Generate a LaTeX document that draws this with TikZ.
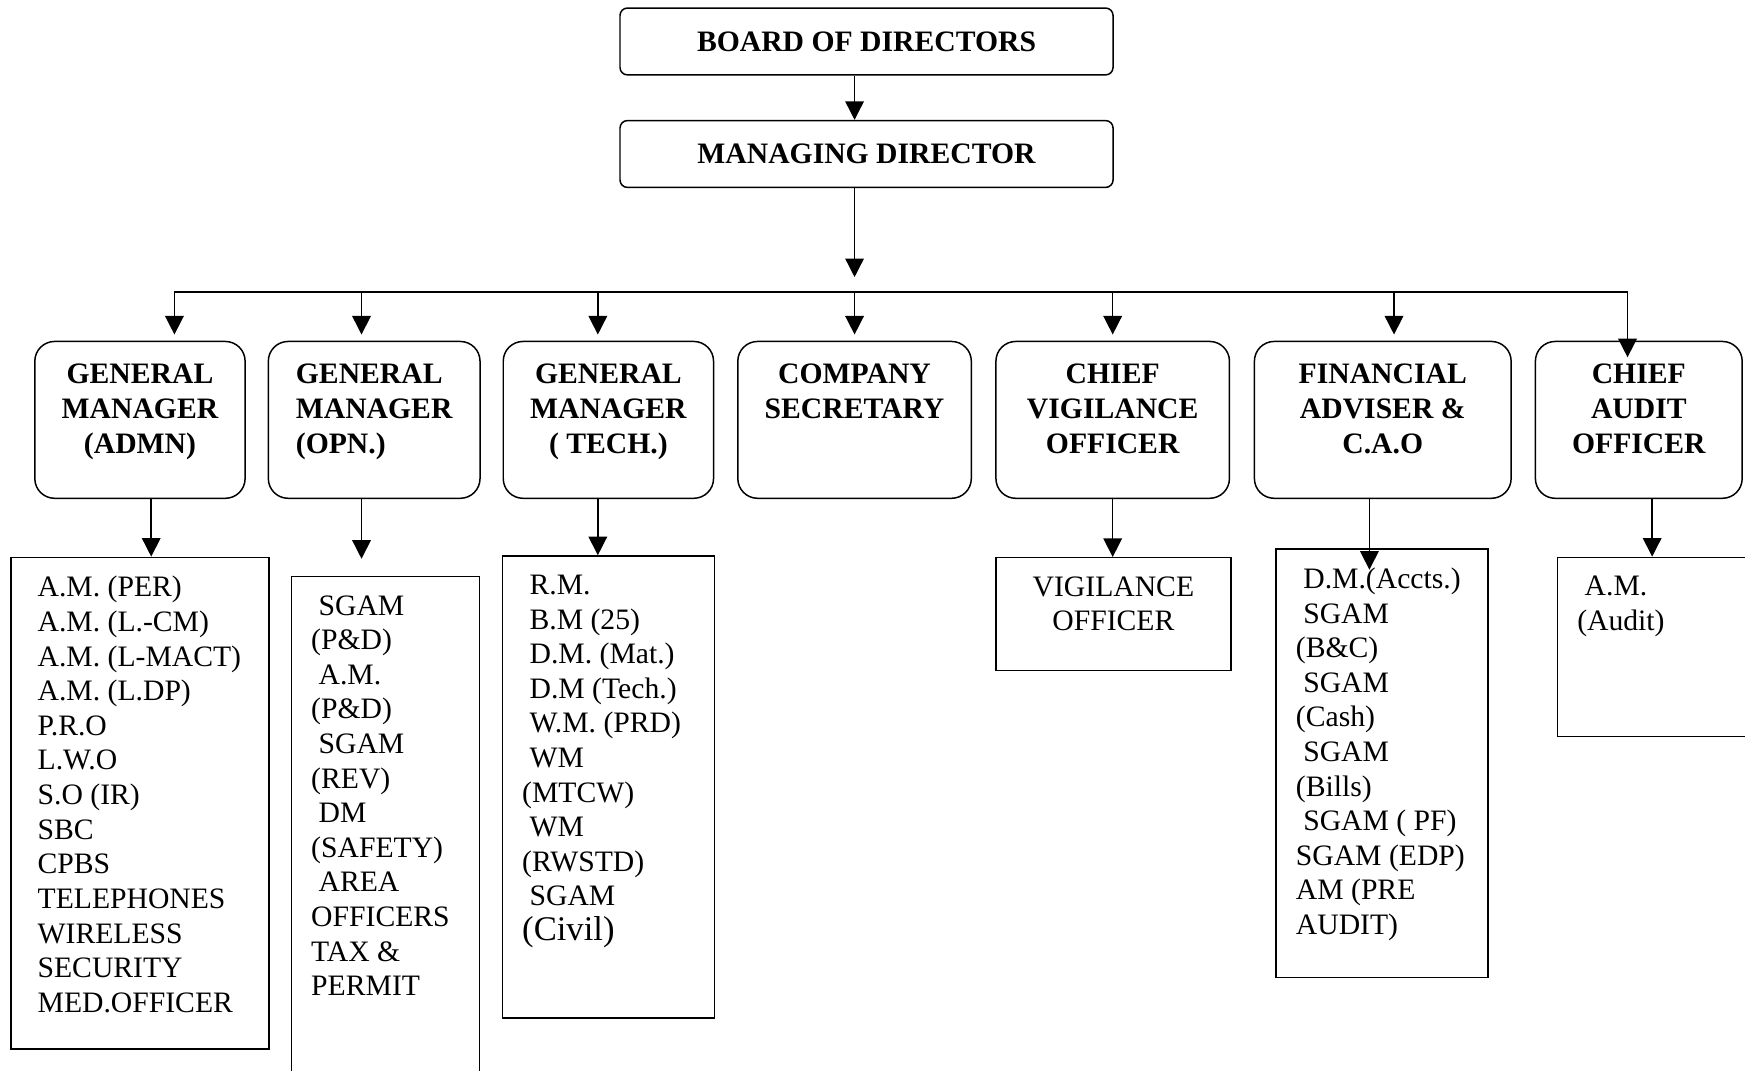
\documentclass[tikz,border=0pt]{standalone}
\usepackage{fontspec}
\setmainfont{Liberation Serif}
\usetikzlibrary{arrows.meta}
\newcommand{\indsp}{\hspace*{3pt}}

\begin{document}
\begin{tikzpicture}[
		line width=0.6pt,
		arr/.style={-{Triangle[length=7.5pt,width=7.5pt]}},
		topbox/.style={draw, rounded corners=3pt, minimum width=7.01cm, minimum height=0.95cm, font=\bfseries\fontsize{12}{14}\selectfont},
		headbox/.style={draw, rounded corners=8pt, minimum height=2.23cm},
		headtext/.style={anchor=north, inner sep=0pt, align=center, font=\bfseries\fontsize{12}{14.2}\selectfont},
		listbox/.style={draw},
		listtext/.style={anchor=north west, inner sep=0pt, align=left, font=\fontsize{12}{14}\selectfont}
	]
		\useasboundingbox (0,0) rectangle (24.81,15.22);
		
		%Board and MD
		\node[topbox] (board) at (12.32,14.63) {BOARD OF DIRECTORS};
		\node[topbox] (md) at (12.32,13.03) {MANAGING DIRECTOR};
		\coordinate (mdtip) at (12.15,11.28);
		\draw[arr] (board.south -| mdtip) -- (md.north -| mdtip);
		\draw[arr] (md.south -| mdtip) -- (mdtip);
		
		%Heads
		\node[headbox, minimum width=2.99cm] (gmadmn) at (1.99,9.25) {};
		\node[headtext] (gmadmntxt) at ([yshift=-0.32cm]gmadmn.north) {GENERAL\\MANAGER\\(ADMN)};
		
		\node[headbox, minimum width=3.01cm] (gmopn) at (5.32,9.25) {};
		\node[headtext, align=left] (gmopntxt) at ([yshift=-0.32cm]gmopn.north) {GENERAL\\MANAGER\\(OPN.)};
		
		\node[headbox, minimum width=2.99cm] (gmtech) at (8.65,9.25) {};
		\node[headtext] (gmtechtxt) at ([yshift=-0.32cm]gmtech.north) {GENERAL\\MANAGER\\( TECH.)};
		
		\node[headbox, minimum width=3.32cm] (csec) at (12.15,9.25) {};
		\node[headtext] (csectxt) at ([yshift=-0.32cm]csec.north) {COMPANY\\SECRETARY};
		
		\node[headbox, minimum width=3.32cm] (cvo) at (15.82,9.25) {};
		\node[headtext] (cvotxt) at ([yshift=-0.32cm]cvo.north) {CHIEF\\VIGILANCE\\OFFICER};
		
		\node[headbox, minimum width=3.65cm] (facao) at (19.66,9.25) {};
		\node[headtext] (facaotxt) at ([yshift=-0.32cm]facao.north) {FINANCIAL\\ADVISER \&\\C.A.O};
		
		\node[headbox, minimum width=2.94cm] (caudit) at (23.30,9.25) {};
		\node[headtext] (caudittxt) at ([yshift=-0.32cm]caudit.north) {CHIEF\\AUDIT\\OFFICER};
		
		%Bus from MD
		\coordinate (b1) at (2.48,11.07);
		\coordinate (b2) at (5.14,11.07);
		\coordinate (b3) at (8.50,11.07);
		\coordinate (b4) at (12.15,11.07);
		\coordinate (b5) at (15.82,11.07);
		\coordinate (b6) at (19.82,11.07);
		\coordinate (b7) at (23.14,11.07);
		\coordinate (t7) at (23.14,10.14);
		\draw (b1) -- (b7);
		\foreach \b/\n in {b1/gmadmn, b2/gmopn, b3/gmtech, b4/csec, b5/cvo, b6/facao}
			\draw[arr, shorten >=2.5pt] (\b) -- (\b |- \n.north);
		\draw[arr] (b7) -- (t7);
		
		%Lists
		\node[listbox, minimum width=3.67cm, minimum height=6.99cm] (admnlist) at (1.99,3.80) {};
		\node[listtext] (admntxt) at ([xshift=0.38cm,yshift=-0.27cm]admnlist.north west) {A.M. (PER)\\A.M. (L.-CM)\\A.M. (L-MACT)\\A.M. (L.DP)\\P.R.O\\L.W.O\\S.O (IR)\\SBC\\CPBS\\TELEPHONES\\WIRELESS\\SECURITY\\MED.OFFICER};
		
		\node[listbox, minimum width=2.67cm, minimum height=7.23cm] (opnlist) at (5.48,3.41) {};
		\node[listtext] (opntxt) at ([xshift=0.28cm,yshift=-0.27cm]opnlist.north west) {\indsp SGAM\\(P\&D)\\\indsp A.M.\\(P\&D)\\\indsp SGAM\\(REV)\\\indsp DM\\(SAFETY)\\\indsp AREA\\OFFICERS\\TAX \&\\PERMIT};
		
		\node[listbox, minimum width=3.01cm, minimum height=6.57cm] (techlist) at (8.65,4.03) {};
		\node[listtext] (techtxt) at ([xshift=0.28cm,yshift=-0.27cm]techlist.north west) {\indsp R.M.\\\indsp B.M (25)\\\indsp D.M. (Mat.)\\\indsp D.M (Tech.)\\\indsp W.M. (PRD)\\\indsp WM\\(MTCW)\\\indsp WM\\(RWSTD)\\\indsp SGAM\\{\fontsize{14}{14}\selectfont (Civil)}};
		
		\node[listbox, minimum width=3.34cm, minimum height=1.60cm] (vigoff) at (15.83,6.49) {};
		\node[listtext, anchor=north, align=center] (vigtxt) at ([yshift=-0.27cm]vigoff.north) {VIGILANCE\\OFFICER};
		
		\node[listbox, minimum width=3.01cm, minimum height=6.09cm] (falist) at (19.65,4.37) {};
		\node[listtext] (fatxt) at ([xshift=0.28cm,yshift=-0.27cm]falist.north west) {\indsp D.M.(Accts.)\\\indsp SGAM\\(B\&C)\\\indsp SGAM\\(Cash)\\\indsp SGAM\\(Bills)\\\indsp SGAM ( PF)\\SGAM (EDP)\\AM (PRE\\AUDIT)};
		
		\node[listbox, minimum width=2.77cm, minimum height=2.55cm] (auditlist) at (23.53,6.02) {};
		\node[listtext] (audittxt) at ([xshift=0.28cm,yshift=-0.27cm]auditlist.north west) {\indsp A.M.\\(Audit)};
		
		%Heads to lists
		\coordinate (c1) at (2.15,8.14);
		\coordinate (c2) at (5.14,8.14);
		\coordinate (c3) at (8.50,8.14);
		\coordinate (c5) at (15.82,8.14);
		\coordinate (c6) at (19.47,8.14);
		\coordinate (c7) at (23.49,8.14);
		\coordinate (f6) at (19.47,7.12);
		\foreach \c/\n in {c1/admnlist, c3/techlist, c5/vigoff, c7/auditlist}
			\draw[arr] (\c) -- (\c |- \n.north);
		\draw[arr, shorten >=0.24cm] (c2) -- (c2 |- opnlist.north);
		\draw[arr] (c6) -- (f6);
		
	\end{tikzpicture}
\end{document}
